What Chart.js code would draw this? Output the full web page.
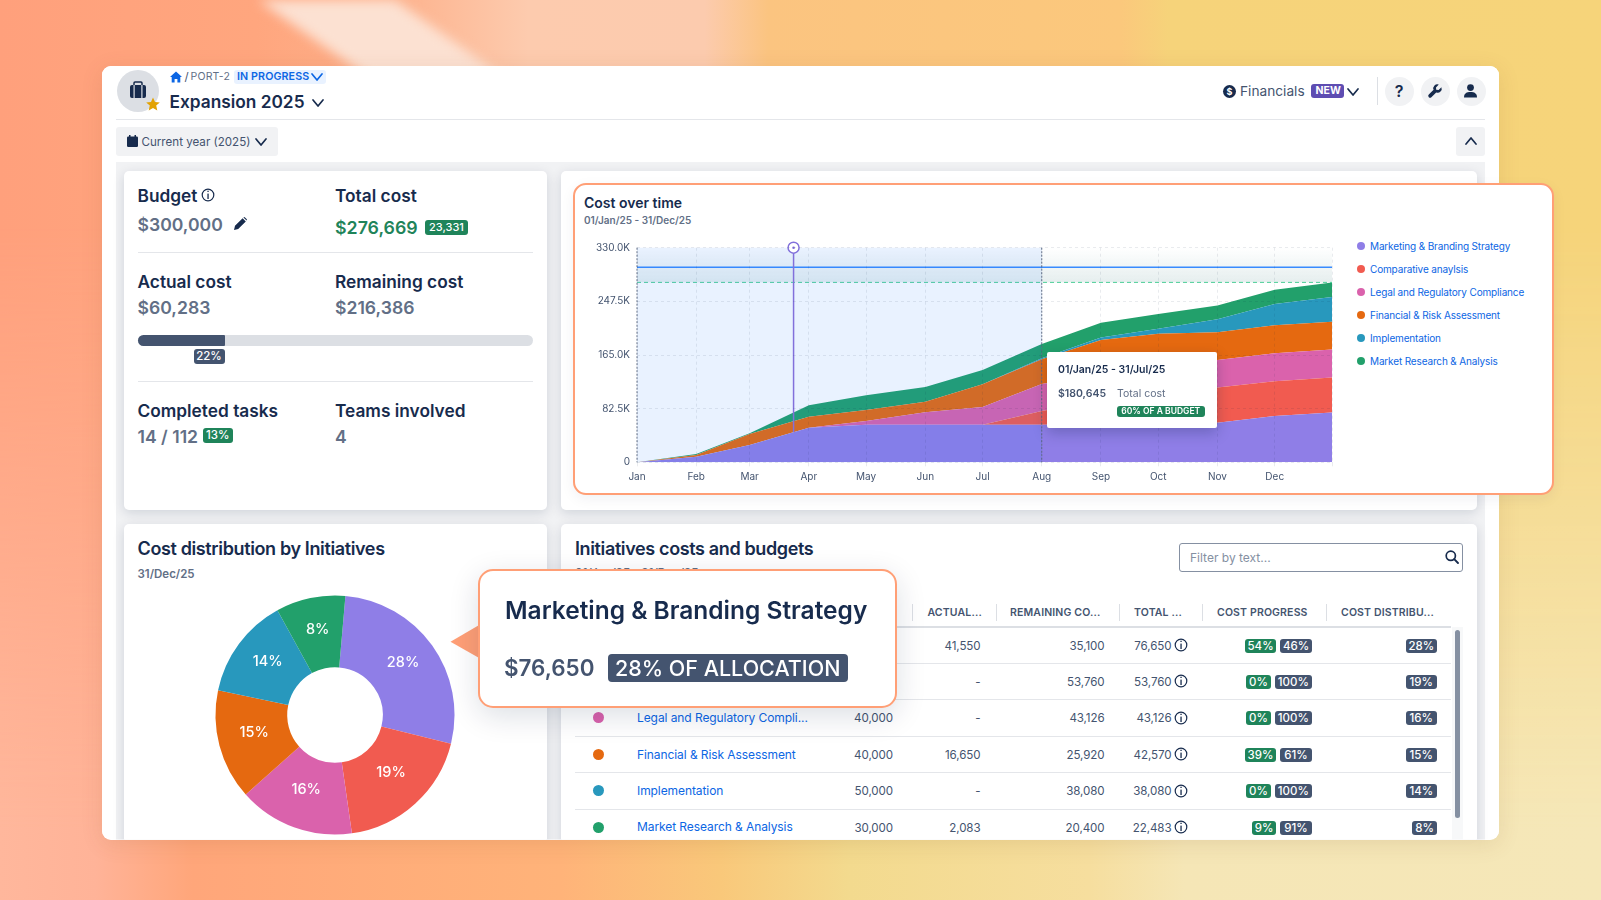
<!DOCTYPE html>
<html>
<head>
<meta charset="utf-8">
<title>Expansion 2025</title>
<script src="https://cdn.jsdelivr.net/npm/chart.js@4"></script>
<style>
  html, body { margin: 0; padding: 0; }
  body {
    width: 1601px; height: 900px; overflow: hidden; position: relative;
    font-family: Inter, "Noto Sans", sans-serif; color: #172B4D;
    background: linear-gradient(90deg, #FFA07C 0%, #FFA67E 16%, #FDB08A 24%, #FDCBAE 33%, #FCCBAE 44%, #FBC480 48%, #FBC87C 70%, #F6D37A 73%, #F6D47A 100%);
  }
  #bgBottom {
    position: absolute; left: 0; top: 0; width: 1601px; height: 900px;
    background: linear-gradient(90deg, #FFB79C 0%, #FFB398 6%, #FFA67A 12%, #FFB379 35%, #F9C87A 45%, #F3DA8E 53%, #F6DE9E 68%, #F5E6B6 74%, #F5E7B8 100%);
    -webkit-mask-image: linear-gradient(180deg, transparent 25%, #000 92%);
    mask-image: linear-gradient(180deg, transparent 25%, #000 92%);
  }
  #bgBlur { position: absolute; left: 0; top: 0; width: 800px; height: 120px; filter: blur(6px); }
  #bgStreak {
    position: absolute; left: 0; top: 0; width: 800px; height: 120px;
    background: #FCE1D2; clip-path: polygon(258px 0, 395px 0, 565px 120px, 430px 120px);
  }
  .box { position: absolute; box-sizing: border-box; }
  .t { position: absolute; white-space: nowrap; line-height: 1.21; }
  #winshadow { position: absolute; left: 102px; top: 66px; width: 1397px; height: 773.5px; border-radius: 9px; background: #fff; box-shadow: 0 4px 22px rgba(120,70,30,.12); }
  #win { position: absolute; left: 0; top: 0; width: 1601px; height: 900px; clip-path: inset(66px 102px 60.5px 102px round 9px); }
  .card { background: #fff; border-radius: 5px; box-shadow: 0 3px 12px rgba(9,30,66,.14); }
  canvas { position: absolute; }
  svg { position: absolute; overflow: visible; }
  .badge { position: absolute; color: #fff; border-radius: 3px; font-weight: 500; text-align: center; white-space: nowrap; box-sizing: border-box; }
</style>
</head>
<body>
<div id="bgBottom"></div>
<div id="bgBlur"><div id="bgStreak"></div></div>
<div id="winshadow"></div>
<div id="win"></div>
<div id="top"></div>
<script>
const initiatives = ["Marketing & Branding Strategy", "Comparative anaylsis", "Legal and Regulatory Compliance", "Financial & Risk Assessment", "Implementation", "Market Research & Analysis"];
const initiativeColors = ["#8F7EE7", "#F15B50", "#DA62AC", "#E56910", "#2898BD", "#22A06B"];

const monthLabels = ["Jan", "Feb", "Mar", "Apr", "May", "Jun", "Jul", "Aug", "Sep", "Oct", "Nov", "Dec", ""];
const monthDays = [0, 31, 59, 90, 120, 151, 181, 212, 243, 273, 304, 334, 364];
const yTickLabels = ["0", "82.5K", "165.0K", "247.5K", "330.0K"];

const marketingCost = [0, 8700, 26600, 53300, 57900, 57900, 57900, 57900, 58000, 59000, 61000, 71200, 76650];
const comparativeCost = [0, 0, 0, 0, 0, 0, 0, 21000, 37000, 46000, 54000, 53300, 53760];
const legalCost = [0, 0, 0, 0, 5600, 19000, 27100, 41500, 40000, 42000, 42300, 43000, 43126];
const financialCost = [0, 2600, 16900, 16900, 16900, 16400, 34900, 37900, 53000, 50800, 42500, 43100, 42570];
const implementationCost = [0, 0, 0, 0, 0, 0, 0, 1700, 4000, 7700, 20000, 32800, 38080];
const researchCost = [0, 1500, 1100, 17400, 22600, 22500, 22000, 21900, 22700, 22500, 21500, 22000, 22483];

const budgetValue = 300000;
const totalCostValue = 276669;
const todayDay = 82;
const todayValue = 46400;
const elapsedEndDay = 212;

const sliceShares = [27.5, 18.9, 15.7, 14.9, 13.7, 9.4];
const sharePercents = ["28%", "19%", "16%", "15%", "14%", "8%"];

// the callout hides the first two names and budgets
const tableNames = ["", "", "Legal and Regulatory Compli...", "Financial & Risk Assessment", "Implementation", "Market Research & Analysis"];
const tableBudgets = ["", "", "40,000", "40,000", "50,000", "30,000"];
const tableActual = ["41,550", "-", "-", "16,650", "-", "2,083"];
const tableRemaining = ["35,100", "53,760", "43,126", "25,920", "38,080", "20,400"];
const tableTotal = ["76,650", "53,760", "43,126", "42,570", "38,080", "22,483"];
const tableDone = ["54%", "0%", "0%", "39%", "0%", "9%"];
const tableLeft = ["46%", "100%", "100%", "61%", "100%", "91%"];

const win = document.getElementById("win");
const top_ = document.getElementById("top");

function box(parent, x, y, w, h, css, cls) {
  const d = document.createElement("div");
  d.className = "box " + (cls || "");
  d.style.cssText = "left:" + x + "px;top:" + y + "px;width:" + w + "px;height:" + h + "px;" + (css || "");
  parent.appendChild(d);
  return d;
}

// x is the left edge unless align is right or center, y is the text baseline
function text(parent, str, x, y, size, weight, color, align, extra) {
  const d = document.createElement("div");
  d.className = "t";
  d.textContent = str;
  let css = "top:" + (y - 0.96875 * size) + "px;font-size:" + size + "px;font-weight:" + weight + ";color:" + color + ";";
  if (align === "right") css += "right:" + (1601 - x) + "px;";
  else if (align === "center") css += "left:" + x + "px;transform:translateX(-50%);";
  else css += "left:" + x + "px;";
  d.style.cssText = css + (extra || "");
  parent.appendChild(d);
  return d;
}

function badge(parent, str, x, cy, w, h, bg, size, extra) {
  const d = document.createElement("div");
  d.className = "badge";
  d.textContent = str;
  d.style.cssText = "left:" + x + "px;top:" + (cy - h / 2) + "px;width:" + w + "px;height:" + h + "px;line-height:" + h + "px;background:" + bg + ";font-size:" + size + "px;" + (extra || "");
  parent.appendChild(d);
  return d;
}

function svg(parent, x, y, w, h, inner) {
  const holder = document.createElement("div");
  holder.innerHTML = '<svg style="left:' + x + "px;top:" + y + 'px" width="' + w + '" height="' + h + '" viewBox="0 0 ' + w + " " + h + '">' + inner + "</svg>";
  parent.appendChild(holder.firstChild);
}

function chevron(parent, cx, cy, color, up) {
  const a = up ? -3 : 3;
  svg(parent, cx - 6, cy - 4, 12, 8, '<polyline points="1,' + (4 - a) + " 6," + (4 + a) + " 11," + (4 - a) + '" fill="none" stroke="' + (color || "#172B4D") + '" stroke-width="1.7" stroke-linecap="round" stroke-linejoin="round"/>');
}

function infoIcon(parent, cx, cy, r, color) {
  svg(parent, cx - r - 1, cy - r - 1, 2 * r + 2, 2 * r + 2,
    '<circle cx="' + (r + 1) + '" cy="' + (r + 1) + '" r="' + (r - 0.2) + '" fill="none" stroke="' + color + '" stroke-width="1.2"/>' +
    '<rect x="' + (r + 0.4) + '" y="' + (r - 0.4) + '" width="1.3" height="' + (r * 0.9) + '" fill="' + color + '"/>' +
    '<rect x="' + (r + 0.4) + '" y="' + (r * 0.45) + '" width="1.3" height="1.3" fill="' + color + '"/>');
}

// header
box(win, 102, 66, 1397, 774, "background:#fff;");
box(win, 116.5, 70, 42, 42, "background:#DCDFE4;border-radius:50%;");
svg(win, 128.5, 81, 18, 18, '<rect x="1" y="4" width="16" height="13" rx="2" fill="#172B4D"/><rect x="5" y="1" width="8" height="4" rx="1" fill="none" stroke="#172B4D" stroke-width="1.5"/><rect x="4.5" y="4" width="1.2" height="13" fill="#DCDFE4"/><rect x="12.3" y="4" width="1.2" height="13" fill="#DCDFE4"/>');
svg(win, 146, 97, 14, 14, '<polygon points="7,0.5 9,5 13.8,5.4 10.2,8.6 11.3,13.4 7,10.9 2.7,13.4 3.8,8.6 0.2,5.4 5,5" fill="#E2A203"/>');
svg(win, 170, 71, 12, 12, '<path d="M6 0.5 L12 6 H10.3 V11.5 H7.4 V8 H4.6 V11.5 H1.7 V6 H0 Z" fill="#0C66E4"/>');
text(win, "/", 184.5, 82, 11.5, 400, "#44546F");
text(win, "PORT-2", 190.5, 81.6, 10.5, 400, "#626F86", null, "letter-spacing:.2px;");
box(win, 233.5, 70, 92, 14, "background:#E9F2FF;border-radius:3px;");
text(win, "IN PROGRESS", 237, 81.6, 10.7, 600, "#0C66E4", null, "letter-spacing:.1px;");
chevron(win, 317, 77, "#0C66E4");
text(win, "Expansion 2025", 169.5, 109, 17.3, 600, "#172B4D");
chevron(win, 318, 103, "#172B4D");
svg(win, 1222.5, 84.5, 13, 13, '<circle cx="6.5" cy="6.5" r="6.5" fill="#172B4D"/><text x="6.5" y="10" text-anchor="middle" font-size="9" font-weight="700" fill="#fff" font-family="Inter">$</text>');
text(win, "Financials", 1240, 96.5, 13.7, 400, "#44546F");
box(win, 1311, 84, 33, 14, "background:#5E4DB2;border-radius:3px;");
text(win, "NEW", 1315.5, 95, 10.5, 700, "#fff");
chevron(win, 1353, 92, "#172B4D");
box(win, 1377, 77, 1, 28, "background:#DCDFE4;");
[1399, 1435, 1471].forEach(cx => box(win, cx - 14.5, 76.5, 29, 29, "background:#F1F2F4;border-radius:50%;"));
text(win, "?", 1399, 97, 16, 600, "#172B4D", "center");
svg(win, 1428, 84, 14, 14, '<path d="M13.4 3.2 L10.6 6 L8.2 5.8 L8 3.4 L10.8 0.6 A4 4 0 0 0 5.6 5.8 L0.8 10.6 A1.7 1.7 0 0 0 3.4 13.2 L8.2 8.4 A4 4 0 0 0 13.4 3.2 Z" fill="#172B4D"/>');
svg(win, 1464, 84, 13, 14, '<circle cx="6.5" cy="3.6" r="3.4" fill="#172B4D"/><path d="M0 13.6 C0 9.2 2.6 8 6.5 8 C10.4 8 13 9.2 13 13.6 Z" fill="#172B4D"/>');
box(win, 116, 118.5, 1369, 1.5, "background:#E4E6EA;");

// filter bar
box(win, 116, 127, 162, 29, "background:#F1F2F4;border-radius:3px;");
svg(win, 127, 135, 11, 12, '<rect x="0" y="1.5" width="11" height="10.5" rx="1.3" fill="#172B4D"/><rect x="2" y="0" width="1.5" height="3" fill="#172B4D"/><rect x="7.5" y="0" width="1.5" height="3" fill="#172B4D"/>');
text(win, "Current year (2025)", 141.5, 146.6, 11.6, 400, "#44546F");
chevron(win, 261, 141.5, "#172B4D");
box(win, 1456, 127, 29, 29, "background:#F1F2F4;border-radius:3px;");
chevron(win, 1470.5, 141, "#172B4D", true);

// content background and cards
box(win, 116, 162, 1369, 690, "background:#F1F2F4;");
box(win, 123.5, 171, 423, 339, "", "card");
box(win, 561, 171, 916, 339, "", "card");
box(win, 123.5, 524, 423, 360, "", "card");
box(win, 561, 524, 916, 360, "", "card");

// summary card
const navy = "#172B4D", slate = "#626F86", green = "#1F845A", neutral = "#44546F";
text(win, "Budget", 137.5, 202.7, 17.3, 600, navy);
infoIcon(win, 208, 195, 6, navy);
text(win, "Total cost", 335, 202.7, 17.3, 600, navy);
text(win, "$300,000", 137.5, 231, 17.6, 600, slate);
svg(win, 234, 217, 13, 13, '<path d="M0 13 L1 8.8 L8.6 1.2 L11.8 4.4 L4.2 12 Z M9.4 0.4 A1.2 1.2 0 0 1 11 0.4 L12.6 2 A1.2 1.2 0 0 1 12.6 3.6" fill="#172B4D"/>');
text(win, "$276,669", 335, 234, 17.8, 600, green);
badge(win, "23,331", 425, 227.5, 43, 15, green, 11);
box(win, 137.5, 252, 395, 1, "background:#E4E6EA;");
text(win, "Actual cost", 137.5, 288.8, 17.3, 600, navy);
text(win, "Remaining cost", 335, 288.8, 17.3, 600, navy);
text(win, "$60,283", 137.5, 314.3, 17.6, 600, slate);
text(win, "$216,386", 335, 314.3, 17.6, 600, slate);
box(win, 137.5, 335, 395, 11, "background:#DCDFE4;border-radius:6px;");
box(win, 137.5, 335, 87, 11, "background:#44546F;border-radius:6px 1px 1px 6px;");
badge(win, "22%", 193.5, 356.5, 31, 14.5, neutral, 11.5);
box(win, 137.5, 381, 395, 1, "background:#E4E6EA;");
text(win, "Completed tasks", 137.5, 417.8, 17.3, 600, navy);
text(win, "Teams involved", 335, 417.8, 17.3, 600, navy);
text(win, "14 / 112", 137.5, 443.3, 17.6, 600, slate);
badge(win, "13%", 203, 435.5, 29.5, 14.5, green, 11.5);
text(win, "4", 335, 443.3, 17.6, 600, slate);

// pie card
text(win, "Cost distribution by Initiatives", 137.5, 555.5, 18, 600, navy, null, "letter-spacing:-.37px;");
text(win, "31/Dec/25", 137.5, 579.5, 11.5, 600, slate);
const pieCanvas = document.createElement("canvas");
pieCanvas.id = "pieChart";
pieCanvas.width = 250;
pieCanvas.height = 250;
pieCanvas.style.cssText = "left:210px;top:590px;";
win.appendChild(pieCanvas);

// table card
text(win, "Initiatives costs and budgets", 575, 555.5, 18, 600, navy, null, "letter-spacing:-.37px;");
text(win, "01/Jan/25 - 31/Dec/25", 575, 578.5, 11.5, 600, slate);
box(win, 1179, 543, 284, 28.5, "border:1.5px solid #8590A2;border-radius:3px;background:#fff;");
text(win, "Filter by text...", 1190, 562.5, 12, 400, "#8590A2");
svg(win, 1445, 550, 14, 14, '<circle cx="5.8" cy="5.8" r="4.6" fill="none" stroke="#172B4D" stroke-width="1.7"/><line x1="9.2" y1="9.2" x2="13" y2="13" stroke="#172B4D" stroke-width="1.9" stroke-linecap="round"/>');
const headers = [["ACTUAL...", 927.5], ["REMAINING CO...", 1010], ["TOTAL ...", 1134], ["COST PROGRESS", 1217], ["COST DISTRIBU...", 1341]];
headers.forEach(h => text(win, h[0], h[1], 617, 10.5, 600, "#44546F", null, "letter-spacing:.15px;"));
[912, 995.5, 1119, 1202, 1326].forEach(x => box(win, x, 604, 1, 17, "background:#DCDFE4;"));
box(win, 575, 626, 876, 1.5, "background:#DCDFE4;");
const rowStep = 36.45;
box(win, 1452, 627, 11, 213, "background:#F7F8F9;");
box(win, 1454.5, 630, 5.5, 188, "background:#8590A2;border-radius:3px;");
tableActual.forEach((actual, i) => {
  const cy = 645 + i * rowStep;
  const base = cy + 4.8;
  if (i < 5) box(win, 575, cy + 18, 876, 1, "background:#E4E6EA;");
  if (tableNames[i]) {
    box(win, 593, cy - 5.5, 11, 11, "background:" + initiativeColors[i] + ";border-radius:50%;");
    text(win, tableNames[i], 637, base, 12, 400, "#0C66E4", null, "letter-spacing:-.08px;");
    text(win, tableBudgets[i], 893, base, 11.6, 400, "#44546F", "right", "letter-spacing:-.1px;");
  }
  text(win, actual, 980.5, base, 11.6, 400, "#44546F", "right", "letter-spacing:-.1px;");
  text(win, tableRemaining[i], 1104.5, base, 11.6, 400, "#44546F", "right", "letter-spacing:-.1px;");
  text(win, tableTotal[i], 1171.5, base, 11.6, 400, "#44546F", "right", "letter-spacing:-.1px;");
  infoIcon(win, 1181, cy, 6, "#172B4D");
  const leftW = tableLeft[i].length === 4 ? 37 : 31.5;
  const doneW = tableDone[i].length === 3 ? 31.5 : 24.5;
  badge(win, tableLeft[i], 1311.8 - leftW, cy + 0.5, leftW, 14, neutral, 11.5);
  badge(win, tableDone[i], 1311.8 - leftW - 4 - doneW, cy + 0.5, doneW, 14, green, 11.5);
  const shareW = sharePercents[i].length === 3 ? 31.5 : 25;
  badge(win, sharePercents[i], 1437 - shareW, cy + 0.5, shareW, 14, neutral, 11.5);
});

// highlighted line chart card, sits over the window edge
box(top_, 572.5, 182.5, 981, 312, "background:#fff;border:2px solid #FF9F76;border-radius:13px;box-shadow:0 4px 14px rgba(9,30,66,.06);");
text(top_, "Cost over time", 584, 208.5, 14, 600, navy);
text(top_, "01/Jan/25 - 31/Dec/25", 584, 224, 10, 600, slate);
const lineCanvas = document.createElement("canvas");
lineCanvas.id = "costChart";
lineCanvas.width = 750;
lineCanvas.height = 252;
lineCanvas.style.cssText = "left:590px;top:238px;";
top_.appendChild(lineCanvas);
initiatives.forEach((name, i) => {
  const cy = 246.4 + i * 23;
  box(top_, 1357, cy - 4, 8, 8, "background:" + initiativeColors[i] + ";border-radius:50%;");
  text(top_, name, 1370, cy + 3.5, 10, 400, "#0C66E4", null, "letter-spacing:-.15px;");
});

// hover tooltip over the chart
box(top_, 1046.5, 352.3, 170, 76, "background:#fff;border-radius:2px;box-shadow:0 5px 14px rgba(9,30,66,.25);");
text(top_, "01/Jan/25 - 31/Jul/25", 1058, 374.5, 10.5, 600, navy);
text(top_, "$180,645", 1058, 398.5, 10.5, 600, "#44546F");
text(top_, "Total cost", 1117, 398.5, 10.5, 400, "#626F86");
badge(top_, "60% OF A BUDGET", 1117, 411, 87.5, 11, green, 8.5, "font-weight:600;");

// callout for the pie slice
svg(top_, 450, 624, 32, 36, '<polygon points="0.5,17.7 30,0.5 30,34.5" fill="#FF9F76"/>');
box(top_, 477.7, 568.7, 419.5, 139.5, "background:#fff;border:2.5px solid #FF9F76;border-radius:15px;box-shadow:0 8px 30px rgba(9,30,66,.14);");
text(top_, "Marketing & Branding Strategy", 505, 620, 24.5, 600, navy);
text(top_, "$76,650", 504, 676, 22.4, 600, "#44546F");
badge(top_, "28% OF ALLOCATION", 607.7, 668, 240, 28, neutral, 21.5, "border-radius:4px;");

const stackSeries = [marketingCost, comparativeCost, legalCost, financialCost, implementationCost, researchCost];

function costPoints(values) {
  return values.map((v, i) => ({ x: monthDays[i], y: v }));
}

const costDatasets = stackSeries.map((values, i) => ({
  label: initiatives[i],
  data: costPoints(values),
  stack: "cost",
  backgroundColor: initiativeColors[i],
  borderWidth: 0,
  pointRadius: 0,
  tension: 0,
  fill: i === 0 ? "origin" : "-1"
}));

costDatasets.push({
  label: "Budget",
  data: [{ x: 0, y: budgetValue }, { x: 364, y: budgetValue }],
  stack: "budget",
  borderColor: "#388BFF",
  borderWidth: 1.5,
  pointRadius: 0,
  fill: false,
  order: -1
});
costDatasets.push({
  label: "Total cost",
  data: [{ x: 0, y: totalCostValue }, { x: 364, y: totalCostValue }],
  stack: "total",
  borderColor: "#4BCE97",
  borderWidth: 1,
  borderDash: [4, 3],
  pointRadius: 0,
  fill: false,
  order: -1
});

// gradient band between the total cost and the top of the axis
const headroomBand = {
  id: "headroomBand",
  beforeDatasetsDraw(chart) {
    const { ctx, chartArea, scales } = chart;
    const bottom = scales.y.getPixelForValue(totalCostValue);
    const gradient = ctx.createLinearGradient(0, chartArea.top, 0, bottom);
    gradient.addColorStop(0, "rgba(5,90,90,0)");
    gradient.addColorStop(1, "rgba(5,90,90,.1)");
    ctx.fillStyle = gradient;
    ctx.fillRect(chartArea.left, chartArea.top, chartArea.width, bottom - chartArea.top);
  }
};

// elapsed period shading, dotted end line and the today marker
const periodMarks = {
  id: "periodMarks",
  afterDatasetsDraw(chart) {
    const { ctx, chartArea, scales } = chart;
    const endX = scales.x.getPixelForValue(elapsedEndDay);
    const todayX = scales.x.getPixelForValue(todayDay);
    ctx.save();
    ctx.fillStyle = "rgba(35,125,255,.1)";
    ctx.fillRect(chartArea.left, chartArea.top, endX - chartArea.left, chartArea.height);
    ctx.strokeStyle = "#626F86";
    ctx.lineWidth = 1;
    ctx.setLineDash([2, 1.5]);
    [chartArea.left, endX].forEach(x => {
      ctx.beginPath();
      ctx.moveTo(x, chartArea.top);
      ctx.lineTo(x, chartArea.bottom);
      ctx.stroke();
    });
    ctx.setLineDash([]);
    ctx.strokeStyle = "#8270DB";
    ctx.lineWidth = 1.5;
    ctx.beginPath();
    ctx.moveTo(todayX, chartArea.top);
    ctx.lineTo(todayX, scales.y.getPixelForValue(todayValue));
    ctx.stroke();
    ctx.fillStyle = "#fff";
    ctx.beginPath();
    ctx.arc(todayX, chartArea.top, 5.5, 0, Math.PI * 2);
    ctx.fill();
    ctx.stroke();
    ctx.fillStyle = "#8270DB";
    ctx.beginPath();
    ctx.arc(todayX, chartArea.top, 1.3, 0, Math.PI * 2);
    ctx.fill();
    ctx.restore();
  }
};

new Chart(lineCanvas, {
  type: "line",
  data: { datasets: costDatasets },
  plugins: [headroomBand, periodMarks],
  options: {
    responsive: false,
    animation: false,
    layout: { padding: { top: 9.7, right: 8 } },
    plugins: { legend: { display: false }, tooltip: { enabled: false } },
    scales: {
      x: {
        type: "linear",
        min: 0,
        max: 364,
        afterBuildTicks(scale) { scale.ticks = monthDays.map(d => ({ value: d })); },
        afterFit(scale) { scale.height = 27.7; scale.paddingLeft = 0; scale.paddingRight = 0; },
        grid: { color: "rgba(9,30,66,.09)", z: 1, tickLength: 4 },
        border: { dash: [3, 3], display: false },
        ticks: {
          autoSkip: false, maxRotation: 0, padding: 5, color: "#44546F",
          font: { family: "Inter", size: 10 },
          callback(value, index) { return monthLabels[index]; }
        }
      },
      y: {
        stacked: true,
        min: 0,
        max: 330000,
        afterFit(scale) { scale.width = 47; scale.paddingTop = 0; scale.paddingBottom = 0; },
        grid: { color: "rgba(9,30,66,.09)", z: 1, drawTicks: false },
        border: { dash: [3, 3], display: false },
        ticks: {
          stepSize: 82500, padding: 7, color: "#44546F",
          font: { family: "Inter", size: 10 },
          callback(value, index) { return yTickLabels[index]; }
        }
      }
    }
  }
});

// percent labels on the slices, sitting slightly above the middle of the ring
const sliceLabels = {
  id: "sliceLabels",
  afterDatasetsDraw(chart) {
    const { ctx } = chart;
    ctx.save();
    ctx.fillStyle = "#fff";
    ctx.font = "500 14.5px Inter";
    ctx.textAlign = "center";
    ctx.textBaseline = "middle";
    chart.getDatasetMeta(0).data.forEach((arc, i) => {
      const p = arc.getCenterPoint();
      ctx.fillText(sharePercents[i], p.x, p.y - 4);
    });
    ctx.restore();
  }
};

new Chart(pieCanvas, {
  type: "doughnut",
  data: { labels: initiatives, datasets: [{ data: sliceShares, backgroundColor: initiativeColors, borderWidth: 0 }] },
  plugins: [sliceLabels],
  options: {
    responsive: false,
    animation: false,
    rotation: 5,
    radius: 119.5,
    cutout: 50,
    plugins: { legend: { display: false }, tooltip: { enabled: false } }
  }
});
</script>
</body>
</html>
